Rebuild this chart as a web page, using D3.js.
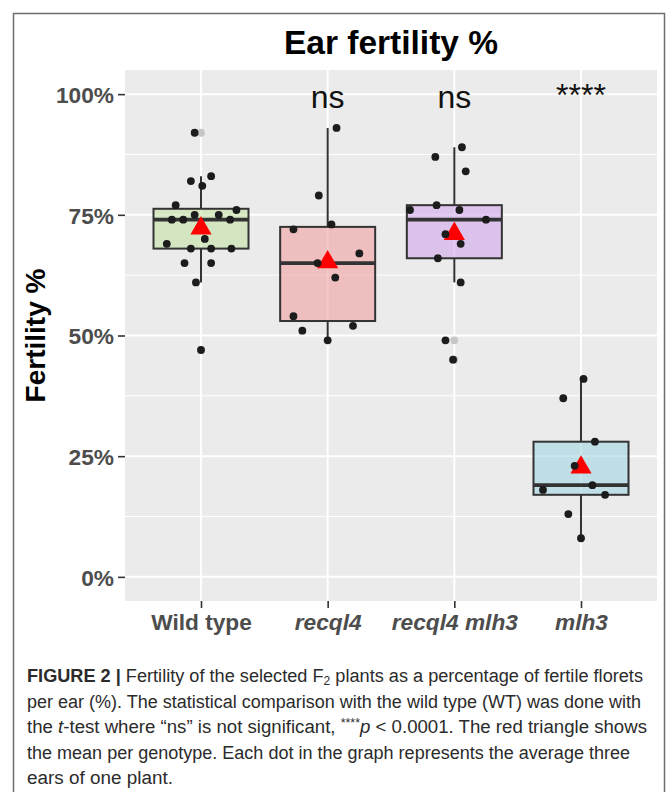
<!DOCTYPE html>
<html>
<head>
<meta charset="utf-8">
<script src="https://cdn.jsdelivr.net/npm/d3@7"></script>
<style>
  body { margin: 0; background: #fff; }
  svg { display: block; font-family: "Liberation Sans", Arial, sans-serif; }
</style>
</head>
<body>
<div id="chart"></div>
<script>
// genotypes on the x axis
var genotypes = ['Wild type', 'recql4', 'recql4 mlh3', 'mlh3'];
var italicLabels = [false, true, true, true];
var boxFills = ['#c3e3a5', '#f2a2a2', '#d2a8ed', '#a2d5e3'];
var sigLabels = ['', 'ns', 'ns', '****'];
var yTicks = [0, 25, 50, 75, 100];
var yMinor = [12.5, 37.5, 62.5, 87.5];

// fertility % per plant (mean of three ears)
var wildType = [92, 83, 82, 81, 77, 76, 75, 75, 74, 74, 74, 70, 69, 68, 68, 68, 65, 65, 61, 47];
var recql4 = [93, 79, 73, 72, 67, 65, 62, 54, 52, 51, 49];
var recql4mlh3 = [89, 87, 84, 77, 76, 76, 74, 71, 69, 66, 61, 49, 45];
var mlh3 = [41, 37, 28, 23, 19, 18, 17, 13, 8];

// horizontal jitter of each dot, as a fraction of the category step
var wildTypeJitter = [-0.05, 0.08, -0.08, 0.01, -0.2, 0.28, -0.05, 0.14, -0.23, -0.14, 0.23, 0.03, -0.27, -0.08, 0.08, 0.24, -0.13, 0.08, -0.04, 0];
var recql4Jitter = [0.07, -0.07, 0.03, -0.27, 0.25, -0.08, 0.06, -0.27, 0.2, -0.2, 0];
var recql4mlh3Jitter = [0.06, -0.15, 0.09, -0.14, -0.35, 0.04, 0.25, -0.07, 0.05, -0.13, 0.05, -0.07, -0.01];
var mlh3Jitter = [0.02, -0.14, 0.11, -0.05, 0.09, -0.3, 0.19, -0.1, 0];

var groups = [wildType, recql4, recql4mlh3, mlh3];
var jitters = [wildTypeJitter, recql4Jitter, recql4mlh3Jitter, mlh3Jitter];

var captionLines = [
	[['FIGURE 2 | ', 'b'], ['Fertility of the selected F', ''], ['2', 'sub'], [' plants as a percentage of fertile florets', '']],
	[['per ear (%). The statistical comparison with the wild type (WT) was done with', '']],
	[['the ', ''], ['t', 'i'], ['-test where \u201cns\u201d is not significant, ', ''], ['****', 'sup'], ['p', 'i'], [' < 0.0001. The red triangle shows', '']],
	[['the mean per genotype. Each dot in the graph represents the average three', '']],
	[['ears of one plant.', '']]
];
var captionEnds = [643, 641, 647, 630, 173];

var width = 670, height = 792;
var panel = { left: 125, right: 657, top: 70, bottom: 601 };

var svg = d3.select('#chart').append('svg')
	.attr('width', width)
	.attr('height', height);

svg.append('rect')
	.attr('x', 13.5).attr('y', 13.5)
	.attr('width', 651).attr('height', 800)
	.attr('fill', '#fff')
	.attr('stroke', '#6e6e6e')
	.attr('stroke-width', 1.5);

var x = d3.scalePoint()
	.domain(genotypes)
	.range([panel.left, panel.right])
	.padding(0.6);
var step = x.step();

var y = d3.scaleLinear()
	.domain([-5, 105])
	.range([panel.bottom, panel.top]);

// panel + grid
svg.append('rect')
	.attr('x', panel.left).attr('y', panel.top)
	.attr('width', panel.right - panel.left)
	.attr('height', panel.bottom - panel.top)
	.attr('fill', '#ebebeb');

svg.selectAll('.minor')
		.data(yMinor)
	.enter().append('line')
		.attr('x1', panel.left).attr('x2', panel.right)
		.attr('y1', function(d) { return y(d); })
		.attr('y2', function(d) { return y(d); })
		.attr('stroke', '#fff').attr('stroke-width', 1);

svg.selectAll('.major')
		.data(yTicks)
	.enter().append('line')
		.attr('x1', panel.left).attr('x2', panel.right)
		.attr('y1', function(d) { return y(d); })
		.attr('y2', function(d) { return y(d); })
		.attr('stroke', '#fff').attr('stroke-width', 2);

svg.selectAll('.vgrid')
		.data(genotypes)
	.enter().append('line')
		.attr('x1', function(d) { return x(d); })
		.attr('x2', function(d) { return x(d); })
		.attr('y1', panel.top).attr('y2', panel.bottom)
		.attr('stroke', '#fff').attr('stroke-width', 2);

// axes
var yAxis = svg.append('g')
	.attr('transform', 'translate(' + panel.left + ',0)')
	.call(d3.axisLeft(y).tickValues(yTicks).tickSize(7).tickPadding(4)
		.tickFormat(function(d) { return d + '%'; }));
var xAxis = svg.append('g')
	.attr('transform', 'translate(0,' + panel.bottom + ')')
	.call(d3.axisBottom(x).tickSize(7).tickPadding(3));

[yAxis, xAxis].forEach(function(ax) {
	ax.select('.domain').remove();
	ax.selectAll('.tick line').attr('stroke', '#333').attr('stroke-width', 1.6);
	ax.selectAll('.tick text')
		.attr('fill', '#4d4d4d')
		.style('font-size', '22.7px')
		.style('font-weight', 'bold')
		.style('font-family', '"Liberation Sans", Arial, sans-serif');
});
xAxis.selectAll('.tick text')
	.attr('dy', '0.85em')
	.style('font-style', function(d, i) { return italicLabels[i] ? 'italic' : 'normal'; });
yAxis.selectAll('.tick text').attr('dy', '0.36em');

// boxplots
var stats = groups.map(function(vals, i) {
	var s = vals.slice().sort(d3.ascending);
	var q1 = d3.quantile(s, 0.25), med = d3.quantile(s, 0.5), q3 = d3.quantile(s, 0.75);
	var iqr = q3 - q1;
	var inside = s.filter(function(v) { return v >= q1 - 1.5 * iqr && v <= q3 + 1.5 * iqr; });
	return {
		key: genotypes[i], q1: q1, med: med, q3: q3,
		lo: d3.min(inside), hi: d3.max(inside),
		mean: d3.mean(vals),
		outliers: s.filter(function(v) { return v < q1 - 1.5 * iqr || v > q3 + 1.5 * iqr; }),
		fill: boxFills[i]
	};
});
var bw = step * 0.75;

var box = svg.selectAll('.box')
		.data(stats)
	.enter().append('g');

box.append('line')
	.attr('x1', function(d) { return x(d.key); })
	.attr('x2', function(d) { return x(d.key); })
	.attr('y1', function(d) { return y(d.hi); })
	.attr('y2', function(d) { return y(d.q3); })
	.attr('stroke', '#333').attr('stroke-width', 2);
box.append('line')
	.attr('x1', function(d) { return x(d.key); })
	.attr('x2', function(d) { return x(d.key); })
	.attr('y1', function(d) { return y(d.q1); })
	.attr('y2', function(d) { return y(d.lo); })
	.attr('stroke', '#333').attr('stroke-width', 2);
box.append('rect')
	.attr('x', function(d) { return x(d.key) - bw / 2; })
	.attr('y', function(d) { return y(d.q3); })
	.attr('width', bw)
	.attr('height', function(d) { return y(d.q1) - y(d.q3); })
	.attr('fill', function(d) { return d.fill; })
	.attr('fill-opacity', 0.6)
	.attr('stroke', '#333').attr('stroke-width', 2);
box.append('line')
	.attr('x1', function(d) { return x(d.key) - bw / 2; })
	.attr('x2', function(d) { return x(d.key) + bw / 2; })
	.attr('y1', function(d) { return y(d.med); })
	.attr('y2', function(d) { return y(d.med); })
	.attr('stroke', '#333').attr('stroke-width', 3.6);

// outliers drawn by the boxplot (light grey, centred)
box.selectAll('.out')
		.data(function(d) { return d.outliers.map(function(v) { return { key: d.key, v: v }; }); })
	.enter().append('circle')
		.attr('cx', function(d) { return x(d.key); })
		.attr('cy', function(d) { return y(d.v); })
		.attr('r', 3.9)
		.attr('fill', '#c6c6c6');

// mean triangles
svg.selectAll('.mean')
		.data(stats)
	.enter().append('path')
		.attr('d', d3.symbol().type(d3.symbolTriangle).size(195))
		.attr('transform', function(d) { return 'translate(' + x(d.key) + ',' + y(d.mean) + ')'; })
		.attr('fill', '#ff0000');

// jittered points
var pts = [];
groups.forEach(function(vals, i) {
	vals.forEach(function(v, j) {
		pts.push({ key: genotypes[i], v: v, jx: jitters[i][j] });
	});
});
svg.selectAll('.pt')
		.data(pts)
	.enter().append('circle')
		.attr('cx', function(d) { return x(d.key) + d.jx * step; })
		.attr('cy', function(d) { return y(d.v); })
		.attr('r', 3.9)
		.attr('fill', '#1c1c1c');

// significance labels
svg.selectAll('.sig')
		.data(genotypes)
	.enter().append('text')
		.attr('x', function(d) { return x(d); })
		.attr('y', function(d, i) { return sigLabels[i] === '****' ? 106 : 108; })
		.attr('text-anchor', 'middle')
		.style('font-size', '32px')
		.attr('fill', '#111')
		.text(function(d, i) { return sigLabels[i]; });

// titles
svg.append('text')
	.attr('x', (panel.left + panel.right) / 2)
	.attr('y', 54)
	.attr('text-anchor', 'middle')
	.style('font-size', '33.5px')
	.style('font-weight', 'bold')
	.text('Ear fertility %');

svg.append('text')
	.attr('transform', 'translate(45,' + ((panel.top + panel.bottom) / 2) + ') rotate(-90)')
	.attr('text-anchor', 'middle')
	.style('font-size', '28px')
	.style('font-weight', 'bold')
	.text('Fertility %');

// caption
var cap = svg.selectAll('.cap')
		.data(captionLines)
	.enter().append('text')
		.attr('x', 27)
		.attr('y', function(d, i) { return 682 + i * 25.5; })
		.attr('fill', '#2b2b2b')
		.style('font-size', '18px')
		.attr('textLength', function(d, i) { return captionEnds[i] - 27; })
		.attr('lengthAdjust', 'spacingAndGlyphs');

cap.selectAll('tspan')
		.data(function(d) { return d; })
	.enter().append('tspan')
		.style('font-weight', function(d) { return d[1] === 'b' ? 'bold' : 'normal'; })
		.style('font-style', function(d) { return d[1] === 'i' ? 'italic' : 'normal'; })
		.style('font-size', function(d) { return d[1] === 'sub' || d[1] === 'sup' ? '12px' : null; })
		.attr('baseline-shift', function(d) { return d[1] === 'sub' ? '-3' : d[1] === 'sup' ? '6' : null; })
		.text(function(d) { return d[0]; });
</script>
</body>
</html>
